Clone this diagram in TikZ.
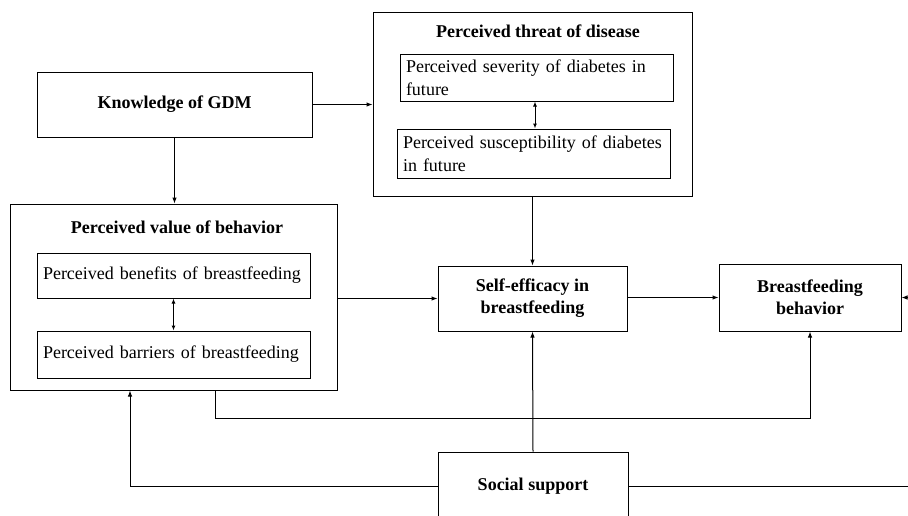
\documentclass[tikz,border=0pt]{standalone}
\usepackage{fontspec}
\setmainfont{Liberation Serif}
\usetikzlibrary{arrows.meta}
\begin{document}
\begin{tikzpicture}[x=1pt,y=-1pt,
  bx/.style={draw, line width=1pt, inner sep=0pt, font=\fontsize{18}{22}\selectfont\bfseries, align=center},
  inner/.style={draw, line width=1pt, inner xsep=6pt, inner ysep=0pt, text width=261pt, align=left, minimum height=#1, font=\fontsize{18}{23}\selectfont},
  ttl/.style={inner sep=0pt, font=\fontsize{18}{22}\selectfont\bfseries},
  ln/.style={line width=1pt},
  arr/.style={line width=1pt, -{Latex[length=6pt,width=4.5pt]}},
  darr/.style={line width=1pt, {Latex[length=5pt,width=4pt]}-{Latex[length=5pt,width=4pt]}}]
\useasboundingbox (0,0) rectangle (908,515);
% boxes
\node[bx, minimum width=275pt, minimum height=65pt] (know) at (174.5,104.5) {Knowledge of GDM};
\node[bx, minimum width=319pt, minimum height=184pt] (threat) at (532.5,104) {};
\node[ttl] (threatT) at (538,31) {Perceived threat of disease};
\node[inner=47pt] (sev) at (536.5,77.5) {Perceived severity of diabetes in\\future};
\node[inner=49pt] (sus) at (533.5,153.5) {Perceived susceptibility of diabetes\\in future};
\node[bx, minimum width=327pt, minimum height=186pt] (value) at (173.5,297) {};
\node[ttl] (valueT) at (177,227) {Perceived value of behavior};
\node[inner=45pt] (ben) at (173.5,275.5) {Perceived benefits of breastfeeding};
\node[inner=47pt] (bar) at (173.5,354.5) {Perceived barriers of breastfeeding};
\node[bx, minimum width=189pt, minimum height=65pt] (self) at (532.5,298.5) {Self-efficacy in\\breastfeeding};
\node[bx, minimum width=182pt, minimum height=67pt] (beh) at (810,297.5) {Breastfeeding\\behavior};
\node[bx, minimum width=190pt, minimum height=68pt] (soc) at (533,486) {Social support};
% helper coordinates
\coordinate (sl) at (130,486);
\coordinate (sr) at (918,486);
\coordinate (vb) at (215,418);
% connectors
\draw[arr] (know.east) -- (know.east -| threat.west);
\draw[arr] (know.south) -- (know.south |- value.north);
\draw[darr] (sev.south -| 535,0) -- (sus.north -| 535,0);
\draw[darr] (ben.south) -- (bar.north);
\draw[arr] (value.east |- self.west) -- (self.west);
\draw[arr] (self.east |- beh.west) -- (beh.west);
\draw[arr] (threat.south) -- (self.north);
\draw[arr] (soc.north) -- (self.south);
\draw[arr] (soc.west) -- (sl) -- (sl |- value.south);
\draw[arr] (vb |- value.south) -- (vb) -- (vb -| beh.south) -- (beh.south);
\draw[arr] (soc.east) -- (sr) -- (sr |- beh.east) -- (beh.east);
\end{tikzpicture}
\end{document}
